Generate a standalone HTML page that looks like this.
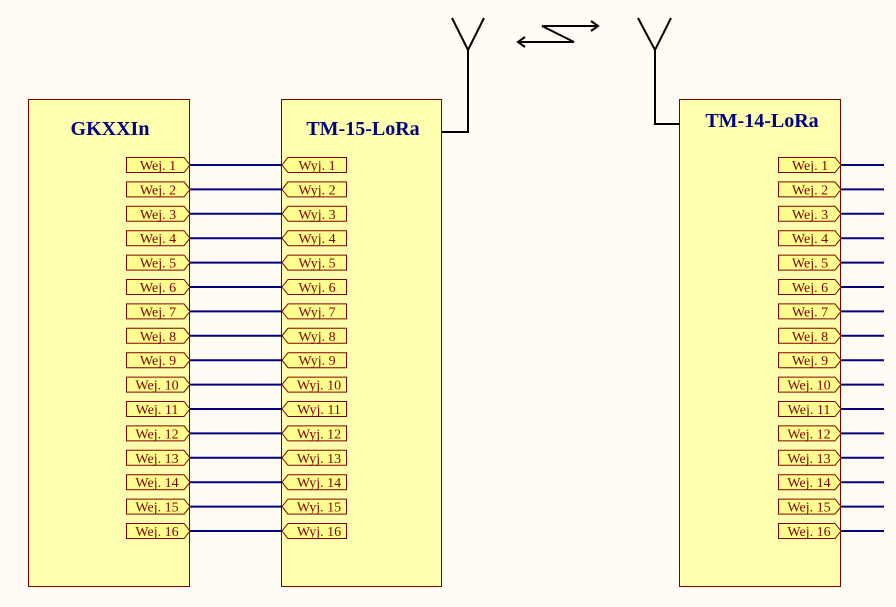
<!DOCTYPE html>
<html><head><meta charset="utf-8"><style>
html,body{margin:0;padding:0;background:#fffcf6;}
svg{display:block}
.t{font-family:"Liberation Serif",serif;font-size:14px;fill:#800000;text-anchor:middle}
.h{font-family:"Liberation Serif",serif;font-size:20px;font-weight:bold;fill:#000080;text-anchor:middle}
.b{fill:#ffffb0;stroke:#800000;stroke-width:1}
.p{fill:#ffff90;stroke:#800000;stroke-width:1}
.w{stroke:#000080;stroke-width:2}
.k{stroke:#000;stroke-width:2;fill:none}
</style></head><body>
<svg width="896" height="607" viewBox="0 0 896 607" xmlns="http://www.w3.org/2000/svg">
<rect x="0" y="0" width="896" height="607" fill="#fffcf6"/>
<rect class="b" x="28.5" y="99.5" width="161" height="487"/>
<rect class="b" x="281.5" y="99.5" width="160" height="487"/>
<rect class="b" x="679.5" y="99.5" width="161" height="487"/>
<text class="h" x="110" y="135">GKXXIn</text>
<text class="h" x="363" y="135">TM-15-LoRa</text>
<text class="h" x="762" y="127">TM-14-LoRa</text>
<path class="k" d="M452 18 L468 50 L484 18 M468 50 L468 132 L442 132"/>
<path class="k" d="M638 18 L655 50 L671 18 M655 50 L655 124 L680 124"/>
<path class="k" d="M542 26 L598 26 M591 21 L598 26 L591 31 M542 26 L574 42 L518 42 M525 37 L518 42 L525 47"/>
<g>
<line class="w" x1="190" y1="165" x2="282" y2="165"/><line class="w" x1="841" y1="165" x2="884" y2="165"/>
<line class="w" x1="190" y1="189.4" x2="282" y2="189.4"/><line class="w" x1="841" y1="189.4" x2="884" y2="189.4"/>
<line class="w" x1="190" y1="213.8" x2="282" y2="213.8"/><line class="w" x1="841" y1="213.8" x2="884" y2="213.8"/>
<line class="w" x1="190" y1="238.2" x2="282" y2="238.2"/><line class="w" x1="841" y1="238.2" x2="884" y2="238.2"/>
<line class="w" x1="190" y1="262.6" x2="282" y2="262.6"/><line class="w" x1="841" y1="262.6" x2="884" y2="262.6"/>
<line class="w" x1="190" y1="287" x2="282" y2="287"/><line class="w" x1="841" y1="287" x2="884" y2="287"/>
<line class="w" x1="190" y1="311.4" x2="282" y2="311.4"/><line class="w" x1="841" y1="311.4" x2="884" y2="311.4"/>
<line class="w" x1="190" y1="335.8" x2="282" y2="335.8"/><line class="w" x1="841" y1="335.8" x2="884" y2="335.8"/>
<line class="w" x1="190" y1="360.2" x2="282" y2="360.2"/><line class="w" x1="841" y1="360.2" x2="884" y2="360.2"/>
<line class="w" x1="190" y1="384.6" x2="282" y2="384.6"/><line class="w" x1="841" y1="384.6" x2="884" y2="384.6"/>
<line class="w" x1="190" y1="409" x2="282" y2="409"/><line class="w" x1="841" y1="409" x2="884" y2="409"/>
<line class="w" x1="190" y1="433.4" x2="282" y2="433.4"/><line class="w" x1="841" y1="433.4" x2="884" y2="433.4"/>
<line class="w" x1="190" y1="457.8" x2="282" y2="457.8"/><line class="w" x1="841" y1="457.8" x2="884" y2="457.8"/>
<line class="w" x1="190" y1="482.2" x2="282" y2="482.2"/><line class="w" x1="841" y1="482.2" x2="884" y2="482.2"/>
<line class="w" x1="190" y1="506.6" x2="282" y2="506.6"/><line class="w" x1="841" y1="506.6" x2="884" y2="506.6"/>
<line class="w" x1="190" y1="531" x2="282" y2="531"/><line class="w" x1="841" y1="531" x2="884" y2="531"/>
</g>
<g transform="translate(0,0)">
<polygon class="p" points="126.5,157.5 184,157.5 190,165 184,172.5 126.5,172.5"/><text class="t" x="158" y="170">Wej. 1</text>
<polygon class="p" points="288,157.5 346.5,157.5 346.5,172.5 288,172.5 282,165"/><text class="t" x="317" y="170">Wyj. 1</text>
<polygon class="p" points="778.5,157.5 835,157.5 841,165 835,172.5 778.5,172.5"/><text class="t" x="810" y="170">Wej. 1</text>
</g>
<g transform="translate(0,24.4)">
<polygon class="p" points="126.5,157.5 184,157.5 190,165 184,172.5 126.5,172.5"/><text class="t" x="158" y="170">Wej. 2</text>
<polygon class="p" points="288,157.5 346.5,157.5 346.5,172.5 288,172.5 282,165"/><text class="t" x="317" y="170">Wyj. 2</text>
<polygon class="p" points="778.5,157.5 835,157.5 841,165 835,172.5 778.5,172.5"/><text class="t" x="810" y="170">Wej. 2</text>
</g>
<g transform="translate(0,48.8)">
<polygon class="p" points="126.5,157.5 184,157.5 190,165 184,172.5 126.5,172.5"/><text class="t" x="158" y="170">Wej. 3</text>
<polygon class="p" points="288,157.5 346.5,157.5 346.5,172.5 288,172.5 282,165"/><text class="t" x="317" y="170">Wyj. 3</text>
<polygon class="p" points="778.5,157.5 835,157.5 841,165 835,172.5 778.5,172.5"/><text class="t" x="810" y="170">Wej. 3</text>
</g>
<g transform="translate(0,73.2)">
<polygon class="p" points="126.5,157.5 184,157.5 190,165 184,172.5 126.5,172.5"/><text class="t" x="158" y="170">Wej. 4</text>
<polygon class="p" points="288,157.5 346.5,157.5 346.5,172.5 288,172.5 282,165"/><text class="t" x="317" y="170">Wyj. 4</text>
<polygon class="p" points="778.5,157.5 835,157.5 841,165 835,172.5 778.5,172.5"/><text class="t" x="810" y="170">Wej. 4</text>
</g>
<g transform="translate(0,97.6)">
<polygon class="p" points="126.5,157.5 184,157.5 190,165 184,172.5 126.5,172.5"/><text class="t" x="158" y="170">Wej. 5</text>
<polygon class="p" points="288,157.5 346.5,157.5 346.5,172.5 288,172.5 282,165"/><text class="t" x="317" y="170">Wyj. 5</text>
<polygon class="p" points="778.5,157.5 835,157.5 841,165 835,172.5 778.5,172.5"/><text class="t" x="810" y="170">Wej. 5</text>
</g>
<g transform="translate(0,122)">
<polygon class="p" points="126.5,157.5 184,157.5 190,165 184,172.5 126.5,172.5"/><text class="t" x="158" y="170">Wej. 6</text>
<polygon class="p" points="288,157.5 346.5,157.5 346.5,172.5 288,172.5 282,165"/><text class="t" x="317" y="170">Wyj. 6</text>
<polygon class="p" points="778.5,157.5 835,157.5 841,165 835,172.5 778.5,172.5"/><text class="t" x="810" y="170">Wej. 6</text>
</g>
<g transform="translate(0,146.4)">
<polygon class="p" points="126.5,157.5 184,157.5 190,165 184,172.5 126.5,172.5"/><text class="t" x="158" y="170">Wej. 7</text>
<polygon class="p" points="288,157.5 346.5,157.5 346.5,172.5 288,172.5 282,165"/><text class="t" x="317" y="170">Wyj. 7</text>
<polygon class="p" points="778.5,157.5 835,157.5 841,165 835,172.5 778.5,172.5"/><text class="t" x="810" y="170">Wej. 7</text>
</g>
<g transform="translate(0,170.8)">
<polygon class="p" points="126.5,157.5 184,157.5 190,165 184,172.5 126.5,172.5"/><text class="t" x="158" y="170">Wej. 8</text>
<polygon class="p" points="288,157.5 346.5,157.5 346.5,172.5 288,172.5 282,165"/><text class="t" x="317" y="170">Wyj. 8</text>
<polygon class="p" points="778.5,157.5 835,157.5 841,165 835,172.5 778.5,172.5"/><text class="t" x="810" y="170">Wej. 8</text>
</g>
<g transform="translate(0,195.2)">
<polygon class="p" points="126.5,157.5 184,157.5 190,165 184,172.5 126.5,172.5"/><text class="t" x="158" y="170">Wej. 9</text>
<polygon class="p" points="288,157.5 346.5,157.5 346.5,172.5 288,172.5 282,165"/><text class="t" x="317" y="170">Wyj. 9</text>
<polygon class="p" points="778.5,157.5 835,157.5 841,165 835,172.5 778.5,172.5"/><text class="t" x="810" y="170">Wej. 9</text>
</g>
<g transform="translate(0,219.6)">
<polygon class="p" points="126.5,157.5 184,157.5 190,165 184,172.5 126.5,172.5"/><text class="t" x="157" y="170">Wej. 10</text>
<polygon class="p" points="288,157.5 346.5,157.5 346.5,172.5 288,172.5 282,165"/><text class="t" x="319" y="170">Wyj. 10</text>
<polygon class="p" points="778.5,157.5 835,157.5 841,165 835,172.5 778.5,172.5"/><text class="t" x="809" y="170">Wej. 10</text>
</g>
<g transform="translate(0,244)">
<polygon class="p" points="126.5,157.5 184,157.5 190,165 184,172.5 126.5,172.5"/><text class="t" x="157" y="170">Wej. 11</text>
<polygon class="p" points="288,157.5 346.5,157.5 346.5,172.5 288,172.5 282,165"/><text class="t" x="319" y="170">Wyj. 11</text>
<polygon class="p" points="778.5,157.5 835,157.5 841,165 835,172.5 778.5,172.5"/><text class="t" x="809" y="170">Wej. 11</text>
</g>
<g transform="translate(0,268.4)">
<polygon class="p" points="126.5,157.5 184,157.5 190,165 184,172.5 126.5,172.5"/><text class="t" x="157" y="170">Wej. 12</text>
<polygon class="p" points="288,157.5 346.5,157.5 346.5,172.5 288,172.5 282,165"/><text class="t" x="319" y="170">Wyj. 12</text>
<polygon class="p" points="778.5,157.5 835,157.5 841,165 835,172.5 778.5,172.5"/><text class="t" x="809" y="170">Wej. 12</text>
</g>
<g transform="translate(0,292.8)">
<polygon class="p" points="126.5,157.5 184,157.5 190,165 184,172.5 126.5,172.5"/><text class="t" x="157" y="170">Wej. 13</text>
<polygon class="p" points="288,157.5 346.5,157.5 346.5,172.5 288,172.5 282,165"/><text class="t" x="319" y="170">Wyj. 13</text>
<polygon class="p" points="778.5,157.5 835,157.5 841,165 835,172.5 778.5,172.5"/><text class="t" x="809" y="170">Wej. 13</text>
</g>
<g transform="translate(0,317.2)">
<polygon class="p" points="126.5,157.5 184,157.5 190,165 184,172.5 126.5,172.5"/><text class="t" x="157" y="170">Wej. 14</text>
<polygon class="p" points="288,157.5 346.5,157.5 346.5,172.5 288,172.5 282,165"/><text class="t" x="319" y="170">Wyj. 14</text>
<polygon class="p" points="778.5,157.5 835,157.5 841,165 835,172.5 778.5,172.5"/><text class="t" x="809" y="170">Wej. 14</text>
</g>
<g transform="translate(0,341.6)">
<polygon class="p" points="126.5,157.5 184,157.5 190,165 184,172.5 126.5,172.5"/><text class="t" x="157" y="170">Wej. 15</text>
<polygon class="p" points="288,157.5 346.5,157.5 346.5,172.5 288,172.5 282,165"/><text class="t" x="319" y="170">Wyj. 15</text>
<polygon class="p" points="778.5,157.5 835,157.5 841,165 835,172.5 778.5,172.5"/><text class="t" x="809" y="170">Wej. 15</text>
</g>
<g transform="translate(0,366)">
<polygon class="p" points="126.5,157.5 184,157.5 190,165 184,172.5 126.5,172.5"/><text class="t" x="157" y="170">Wej. 16</text>
<polygon class="p" points="288,157.5 346.5,157.5 346.5,172.5 288,172.5 282,165"/><text class="t" x="319" y="170">Wyj. 16</text>
<polygon class="p" points="778.5,157.5 835,157.5 841,165 835,172.5 778.5,172.5"/><text class="t" x="809" y="170">Wej. 16</text>
</g>
</svg>
</body></html>
